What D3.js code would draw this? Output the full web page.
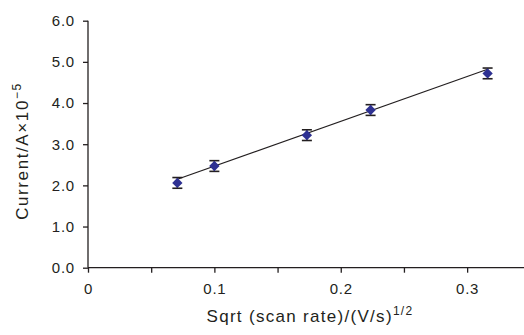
<!DOCTYPE html>
<html>
<head>
<meta charset="utf-8">
<script src="https://cdn.jsdelivr.net/npm/d3@7"></script>
<style>
  body { margin: 0; background: #fff; }
  text { font-family: "Liberation Sans", Arial, sans-serif; fill: #231f20; }
</style>
</head>
<body>
<div id="chart"></div>
<script>
// data
let scanRoot = [0.0707, 0.1, 0.1732, 0.2236, 0.3162]
let current = [2.06, 2.47, 3.22, 3.83, 4.72]
let errBar = [0.13, 0.13, 0.13, 0.13, 0.13]
let fitX = [0.0707, 0.3162]
let fitY = [2.15, 4.82]
let xTicks = [0, 0.05, 0.1, 0.15, 0.2, 0.25, 0.3]
let xLabels = ["0", "", "0.1", "", "0.2", "", "0.3"]
let yTicks = [0, 1, 2, 3, 4, 5, 6]

let width = 524, height = 335

let svg = d3.select("#chart").append("svg")
    .attr("width", width)
    .attr("height", height)

let x = d3.scaleLinear().domain([0, 0.345]).range([88, 524])
let y = d3.scaleLinear().domain([0, 6]).range([267.7, 20.7])

// y axis
let yAxis = svg.append("g")
    .attr("transform", "translate(" + x(0) + ",0)")
    .call(d3.axisLeft(y).tickValues(yTicks).tickFormat(d3.format(".1f")).tickSize(5).tickPadding(8))
yAxis.select(".domain").attr("d", "M0," + y(6) + "V" + y(0)).attr("stroke", "#231f20").attr("stroke-width", 1.3)
yAxis.selectAll(".tick line").attr("stroke", "#231f20").attr("stroke-width", 1.3)
yAxis.selectAll("text").style("font-size", "15px").attr("fill", "#231f20")
    .attr("font-family", null).attr("letter-spacing", "0.8px")

// x axis
let xAxis = svg.append("g")
    .attr("transform", "translate(0," + y(0) + ")")
    .call(d3.axisBottom(x).tickValues(xTicks).tickFormat((d, i) => xLabels[i]).tickSize(5).tickPadding(11))
xAxis.select(".domain").attr("d", "M" + x(0) + ",0H524").attr("stroke", "#231f20").attr("stroke-width", 1.3)
xAxis.selectAll(".tick line").attr("stroke", "#231f20").attr("stroke-width", 1.3)
xAxis.selectAll("text").style("font-size", "15px").attr("fill", "#231f20")
    .attr("font-family", null).attr("letter-spacing", "0.8px")

// fit line
svg.append("line")
    .attr("x1", x(fitX[0])).attr("y1", y(fitY[0]))
    .attr("x2", x(fitX[1])).attr("y2", y(fitY[1]))
    .attr("stroke", "#231f20").attr("stroke-width", 1.2)

// error bars
let pts = scanRoot.map((v, i) => ({ x: v, y: current[i], e: errBar[i] }))
let eb = svg.append("g")
pts.forEach(p => {
    eb.append("line")
        .attr("x1", x(p.x)).attr("x2", x(p.x))
        .attr("y1", y(p.y - p.e)).attr("y2", y(p.y + p.e))
        .attr("stroke", "#231f20").attr("stroke-width", 1.3)
    ;[p.y - p.e, p.y + p.e].forEach(v => {
        eb.append("line")
            .attr("x1", x(p.x) - 5).attr("x2", x(p.x) + 5)
            .attr("y1", y(v)).attr("y2", y(v))
            .attr("stroke", "#231f20").attr("stroke-width", 1.6)
    })
})

// markers
svg.append("g").selectAll("path")
    .data(pts)
    .join("path")
    .attr("d", d3.symbol().type(d3.symbolDiamond2).size(68))
    .attr("transform", d => "translate(" + x(d.x) + "," + y(d.y) + ")")
    .attr("fill", "#2e3192")

// axis titles
let yt = svg.append("text")
    .attr("transform", "translate(28,151) rotate(-90)")
    .attr("text-anchor", "middle")
    .style("font-size", "17px")
    .attr("letter-spacing", "1.6px")
yt.append("tspan").text("Current/A\u00d710")
yt.append("tspan").text("\u22125").attr("dy", -7).style("font-size", "12px")

let xt = svg.append("text")
    .attr("x", 310).attr("y", 322)
    .attr("text-anchor", "middle")
    .style("font-size", "17px")
    .attr("letter-spacing", "1.3px")
xt.append("tspan").text("Sqrt (scan rate)/(V/s)")
xt.append("tspan").text("1/2").attr("dy", -7).style("font-size", "12px")
</script>
</body>
</html>
